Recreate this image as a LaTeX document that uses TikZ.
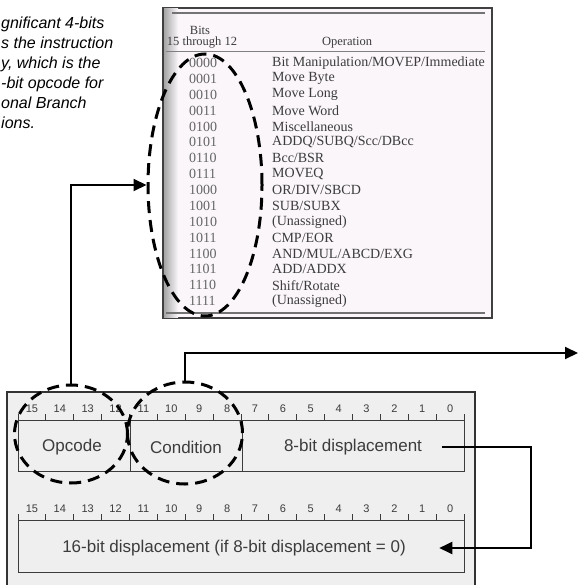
\documentclass[tikz,border=0pt]{standalone}
\usepackage{fontspec}
\setmainfont{Liberation Serif}
\newfontfamily\notefont{Liberation Sans}
\usetikzlibrary{arrows.meta,shapes.geometric}

\definecolor{scanink}{HTML}{3C3C3C}
\definecolor{scanpaper}{HTML}{FAF6FA}
\definecolor{scangray}{HTML}{EFEFEF}

\tikzset{
  ring/.style={ellipse, draw=black, line width=3pt, dash pattern=on 12pt off 7pt, inner sep=0pt},
  link/.style={line width=2pt, -{Triangle[length=13pt,width=12pt]}},
  field/.style={font=\notefont\fontsize{17}{20}\selectfont, text=scanink},
  bitnum/.style={font=\notefont\fontsize{11}{12}\selectfont, text=scanink, inner sep=0pt},
  tabtext/.style={font=\fontsize{14}{15}\selectfont, text=scanink, inner sep=0pt},
}

\begin{document}
\begin{tikzpicture}[x=1pt,y=-1pt]
\useasboundingbox (0,0) rectangle (578,585);

% note, cut off at the left edge
\node[anchor=north west, align=left, inner sep=0pt,
  font=\notefont\itshape\fontsize{16}{20}\selectfont] (note) at (1,17)
  {gnificant 4-bits\\s the instruction\\y, which is the\\-bit opcode for\\onal Branch\\ions.};

% scanned table of opcodes
\node[draw=black!75, line width=1.5pt, fill=scanpaper, minimum width=329pt,
  minimum height=310pt, inner sep=0pt] (tbl) at (327.5,163) {};
\shade[left color=black!35, right color=scanpaper] (164,9) rectangle (178,317);
\draw[black!55, line width=1.6pt] (172,13) -- (485,13);
\draw[black!50, line width=1pt] (166,52) -- (485,52);
\draw[black!55, line width=1.6pt] (166,313) -- (485,313);
\node[tabtext, font=\fontsize{12.5}{14}\selectfont] (bitshead) at (200,30) {Bits};
\node[tabtext, font=\fontsize{12.5}{14}\selectfont] (rangehead) at (202,43) {15 through 12};
\node[tabtext, font=\fontsize{12.5}{14}\selectfont] (ophead) at (347,43) {Operation};
\foreach \code/\op [count=\k from 0] in {
    0000/{Bit Manipulation/MOVEP/Immediate}, 0001/{Move Byte}, 0010/{Move Long},
    0011/{Move Word}, 0100/{Miscellaneous}, 0101/{ADDQ/SUBQ/Scc/DBcc},
    0110/{Bcc/BSR}, 0111/{MOVEQ}, 1000/{OR/DIV/SBCD}, 1001/{SUB/SUBX},
    1010/{(Unassigned)}, 1011/{CMP/EOR}, 1100/{AND/MUL/ABCD/EXG},
    1101/{ADD/ADDX}, 1110/{Shift/Rotate}, 1111/{(Unassigned)}}{
  \node[tabtext, anchor=west, text=black!60] (code\k) at (189,63+15.87*\k) {\code};
  \node[tabtext, anchor=west] (op\k) at (272,63+15.87*\k) {\op};
}

% scanned instruction format
\draw[black!80, line width=1.2pt, fill=scangray] (7,392) rectangle (475,595);
\foreach \ry in {420,520}{
  \draw[scanink, line width=0.9pt] (18,\ry) -- (464,\ry);
  \foreach \i in {0,...,16}
    \draw[scanink, line width=0.8pt] ({18+27.875*\i},\ry) -- ++(0,-6);
  \foreach \i in {0,...,15}{
    \pgfmathtruncatemacro\bitno{15-\i}
    \node[bitnum] (bit\ry-\bitno) at ({18+27.875*(\i+0.5)},\ry-11) {\bitno};
  }
}
\draw[scanink, line width=1pt] (18,420) rectangle (464,471);
\draw[scanink, line width=1pt] (130,420) -- (130,471);
\draw[scanink, line width=1pt] (242,420) -- (242,471);
\draw[scanink, line width=1pt] (18,520) rectangle (464,572);
\node[field] (opcode) at (72,447) {Opcode};
\node[field] (cond) at (186,447) {Condition};
\node[field] (disp8) at (353,447) {8-bit displacement};
\node[field] (disp16) at (234,548) {16-bit displacement (if 8-bit displacement = 0)};

% dashed rings
\node[ring, minimum width=114pt, minimum height=262pt] (bitsring) at (205,185) {};
\node[ring, minimum width=113pt, minimum height=98pt] (opring) at (71,434) {};
\node[ring, minimum width=115pt, minimum height=102pt] (condring) at (185,433) {};

% arrows
\coordinate (exit) at (578,353);
\coordinate (turn) at (531,500);
\draw[link] (opring.north) |- (bitsring.west);
\draw[link] (condring.north) |- (exit);
\draw[link, shorten <=16pt, shorten >=30pt] (disp8.east) -- (disp8.east -| turn) |- (disp16.east);
\end{tikzpicture}
\end{document}
